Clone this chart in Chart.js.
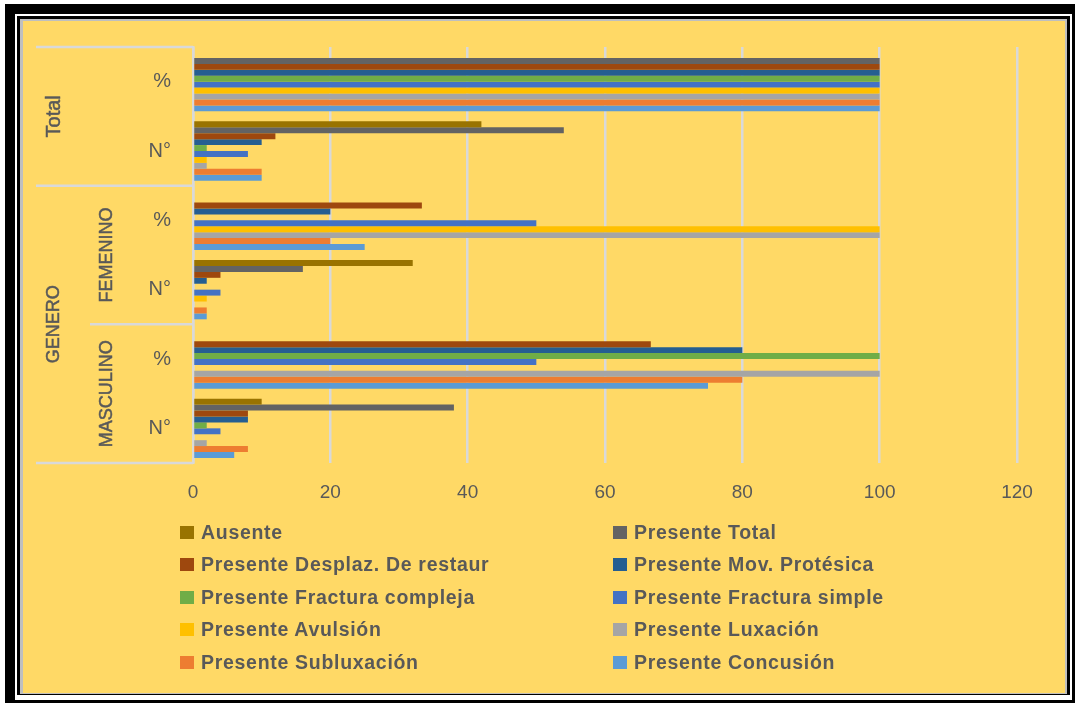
<!DOCTYPE html>
<html lang="es">
<head>
<meta charset="utf-8">
<title>Lesiones por género</title>
<script src="https://cdn.jsdelivr.net/npm/chart.js@4.4.1/dist/chart.umd.min.js"></script>
<style>
  html, body { margin: 0; padding: 0; background: #fff; }
  body { width: 1075px; height: 703px; position: relative; overflow: hidden; font-family: 'Liberation Sans', Arial, sans-serif; }
  .box { position: absolute; box-sizing: border-box; }
  #plot { position: absolute; left: 23px; top: 21px; width: 1042px; height: 672px; background: #FFD966; }
  #chart { position: absolute; left: 0; top: 0; }
  .leg-item { position: absolute; height: 20px; display: flex; align-items: center; white-space: nowrap;
    font-size: 19.5px; font-weight: bold; color: #595959; letter-spacing: 0.7px; }
  .leg-swatch { width: 14px; height: 13px; margin-right: 7px; flex-shrink: 0; }
</style>
</head>
<body>
  <!-- frame: thick black shadow, white gap, thin black + gray rule -->
  <div class="box" style="left:5px;top:4px;width:1070px;height:699px;background:#000;"></div>
  <div class="box" style="left:15px;top:14px;width:1057px;height:686px;background:#fff;"></div>
  <div class="box" style="left:17px;top:16px;width:1053px;height:679px;background:#000;"></div>
  <div class="box" style="left:20px;top:19px;width:1047px;height:675px;background:#bfbfbf;"></div>

  <div id="plot">
    <canvas id="chart" width="1042" height="672"></canvas>
    <div id="legend"></div>
  </div>

<script>
// categories, top to bottom: Total, Femenino, Masculino (each % then N°)
const categories = ['%', 'N°', '%', 'N°', '%', 'N°'];
const groupLabels = ['Total', 'GENERO', 'FEMENINO', 'MASCULINO'];
const xTicks = [0, 20, 40, 60, 80, 100, 120];

const seriesNames = [
  'Ausente', 'Presente Total',
  'Presente Desplaz. De restaur', 'Presente Mov. Protésica',
  'Presente Fractura compleja', 'Presente Fractura simple',
  'Presente Avulsión', 'Presente Luxación',
  'Presente Subluxación', 'Presente Concusión'
];
const seriesColors = [
  '#997300', '#636363', '#9E480E', '#255E91', '#70AD47',
  '#4472C4', '#FFC000', '#A5A5A5', '#ED7D31', '#5B9BD5'
];

// values per category: [Total %, Total N°, Fem %, Fem N°, Masc %, Masc N°]
const ausente          = [0,   42, 0,     32, 0,     10];
const presenteTotal    = [100, 54, 0,     16, 0,     38];
const desplazRestaur   = [100, 12, 33.33, 4,  66.67, 8];
const movProtesica     = [100, 10, 20,    2,  80,    8];
const fracturaCompleja = [100, 2,  0,     0,  100,   2];
const fracturaSimple   = [100, 8,  50,    4,  50,    4];
const avulsion         = [100, 2,  100,   2,  0,     0];
const luxacion         = [100, 2,  100,   0,  100,   2];
const subluxacion      = [100, 10, 20,    2,  80,    8];
const concusion        = [100, 10, 25,    2,  75,    6];

const seriesValues = [
  ausente, presenteTotal, desplazRestaur, movProtesica, fracturaCompleja,
  fracturaSimple, avulsion, luxacion, subluxacion, concusion
];

const TEXT = '#595959';
const RULE = '#d9d9d9';
const FONT = '"Liberation Sans", Arial, sans-serif';

// multi-level category labels + rules left of the axis
const categoryTable = {
  id: 'categoryTable',
  afterDraw(chart) {
    const { ctx, chartArea: a } = chart;
    const step = (a.bottom - a.top) / categories.length;
    ctx.save();
    ctx.strokeStyle = RULE;
    ctx.lineWidth = 2.5;
    const rule = (y, x0) => {
      ctx.beginPath();
      ctx.moveTo(x0, y);
      ctx.lineTo(a.left, y);
      ctx.stroke();
    };
    rule(a.top, 13);
    rule(a.top + 2 * step, 13);
    rule(a.top + 4 * step, 67);
    rule(a.bottom, 13);

    ctx.fillStyle = TEXT;
    ctx.strokeStyle = TEXT;
    ctx.lineWidth = 0.5;
    ctx.textAlign = 'center';
    ctx.textBaseline = 'middle';
    const vtext = (txt, x, y, size) => {
      ctx.save();
      ctx.font = size + 'px ' + FONT;
      ctx.translate(x, y);
      ctx.rotate(-Math.PI / 2);
      ctx.fillText(txt, 0, 0);
      ctx.strokeText(txt, 0, 0);
      ctx.restore();
    };
    vtext(groupLabels[0], 31, a.top + step, 20);
    vtext(groupLabels[1], 31, a.top + 4 * step, 18);
    vtext(groupLabels[2], 84, a.top + 3 * step, 18);
    vtext(groupLabels[3], 84, a.top + 5 * step, 18);
    ctx.restore();
  }
};

const chart = new Chart(document.getElementById('chart'), {
  type: 'bar',
  data: {
    labels: categories,
    datasets: seriesNames.map((name, i) => ({
      label: name,
      data: seriesValues[i],
      backgroundColor: seriesColors[i],
      borderWidth: 0,
      categoryPercentage: 0.855,
      barPercentage: 1.0
    }))
  },
  options: {
    indexAxis: 'y',
    responsive: false,
    animation: false,
    layout: { padding: { top: 26, right: 48, bottom: 180, left: 0 } },
    plugins: { legend: { display: false }, tooltip: { enabled: false } },
    scales: {
      x: {
        min: xTicks[0],
        max: xTicks[xTicks.length - 1],
        afterBuildTicks: s => { s.ticks = xTicks.map(v => ({ value: v })); },
        afterFit: s => { s.height = 50; s.paddingLeft = 0; s.paddingRight = 0; },
        ticks: { color: TEXT, padding: 18, font: { family: FONT, size: 19 } },
        grid: { color: RULE, lineWidth: 2.5, drawTicks: false },
        border: { display: false }
      },
      y: {
        afterFit: s => { s.width = 170; s.paddingTop = 0; s.paddingBottom = 0; },
        ticks: { color: TEXT, padding: 22, font: { family: FONT, size: 20 } },
        grid: { display: false, drawTicks: false },
        border: { color: RULE, width: 2.5 }
      }
    }
  },
  plugins: [categoryTable]
});

// legend in two columns, filled row by row
const legend = document.getElementById('legend');
chart.data.datasets.forEach((ds, i) => {
  const col = i % 2, row = Math.floor(i / 2);
  const item = document.createElement('div');
  item.className = 'leg-item';
  item.style.left = (col ? 590 : 157) + 'px';
  item.style.top = (501 + row * 32.5) + 'px';
  item.innerHTML = `<span class="leg-swatch" style="background:${ds.backgroundColor}"></span>${ds.label}`;
  legend.appendChild(item);
});
</script>
</body>
</html>
